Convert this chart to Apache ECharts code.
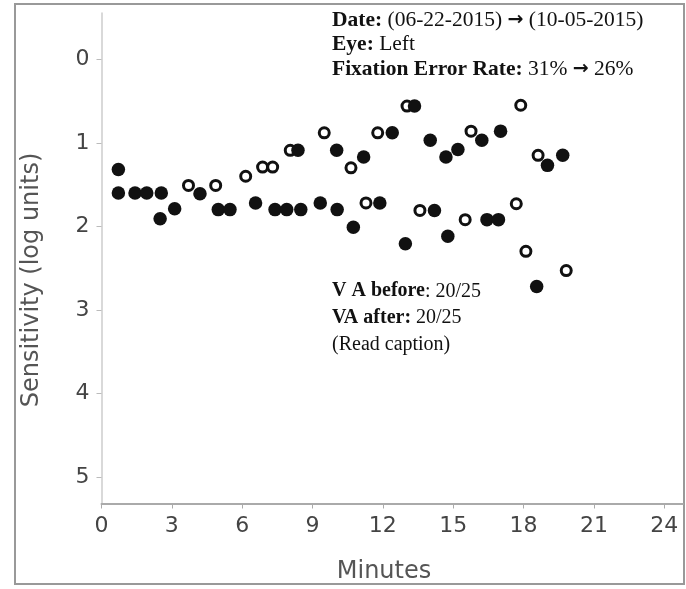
<!DOCTYPE html>
<html>
<head>
<meta charset="utf-8">
<script src="https://cdn.jsdelivr.net/npm/echarts@6/dist/echarts.min.js"></script>
<style>
  html, body { margin: 0; padding: 0; background: #fff; }
  #chart { width: 686px; height: 589px; }
</style>
</head>
<body>
<div id="chart"></div>
<script>
// filled dots (first visit)
var filledMinutes = [0.72, 0.72, 1.43, 1.93, 2.55, 2.5, 3.12, 4.2, 4.98, 5.48, 6.57, 7.4, 7.9, 8.5, 8.38, 9.33,
    10.03, 10.05, 10.74, 11.18, 11.87, 12.4, 12.96, 13.35, 14.02, 14.2, 14.69, 14.77, 15.2, 16.22, 16.44,
    16.93, 17.02, 18.56, 19.02, 19.67];
var filledSensitivity = [1.32, 1.6, 1.6, 1.6, 1.6, 1.91, 1.79, 1.61, 1.8, 1.8, 1.72, 1.8, 1.8, 1.8, 1.09, 1.72,
    1.09, 1.8, 2.01, 1.17, 1.72, 0.88, 2.21, 0.56, 0.97, 1.81, 1.17, 2.12, 1.08, 0.97, 1.92,
    1.92, 0.86, 2.72, 1.27, 1.15];

// open circles (second visit)
var openMinutes = [3.71, 4.87, 6.15, 6.87, 7.3, 8.05, 9.5, 10.64, 11.28, 11.78, 13.03, 13.58, 15.51, 15.76,
    17.69, 17.88, 18.1, 18.62, 19.82];
var openSensitivity = [1.51, 1.51, 1.4, 1.29, 1.29, 1.09, 0.88, 1.3, 1.72, 0.88, 0.56, 1.81, 1.92, 0.86,
    1.73, 0.55, 2.3, 1.15, 2.53];

var xTicks = [0, 3, 6, 9, 12, 15, 18, 21, 24];
var yTicks = [0, 1, 2, 3, 4, 5];

function zip(xs, ys) {
    return xs.map(function (x, i) { return [x, ys[i]]; });
}

var chart = echarts.init(document.getElementById('chart'));

var tickFont = { fontFamily: 'DejaVu Sans', fontSize: 22, color: '#444' };
var serif = 'Liberation Serif';
// heavy arrow like the one in the notes
var arrowStyle = { fontFamily: 'DejaVu Sans', fontSize: 19, fontWeight: 'bold', color: '#111' };

chart.setOption({
    animation: false,
    grid: { left: 101.5, top: 13, width: 581.5, height: 490.5 },
    xAxis: {
        type: 'value',
        min: 0,
        max: 24.8,
        interval: 3,
        splitLine: { show: false },
        axisLine: { show: true, onZero: false, lineStyle: { color: '#aaa', width: 2 } },
        axisTick: { show: true, length: 5, customValues: xTicks, lineStyle: { color: '#aaa' } },
        axisLabel: Object.assign({ margin: 12, customValues: xTicks }, tickFont)
    },
    yAxis: {
        type: 'value',
        inverse: true,
        min: -0.555,
        max: 5.32,
        splitLine: { show: false },
        axisLine: { show: true, onZero: false, lineStyle: { color: '#ccc', width: 1.5 } },
        axisTick: { show: true, length: 5, customValues: yTicks, lineStyle: { color: '#bbb' } },
        axisLabel: Object.assign({ margin: 12, customValues: yTicks }, tickFont)
    },
    series: [
        {
            name: 'after',
            type: 'scatter',
            symbol: 'circle',
            symbolSize: 10,
            z: 2,
            itemStyle: { color: '#fff', borderColor: '#111', borderWidth: 3, opacity: 1 },
            data: zip(openMinutes, openSensitivity)
        },
        {
            name: 'before',
            type: 'scatter',
            symbol: 'circle',
            symbolSize: 13.5,
            z: 3,
            itemStyle: { color: '#111', opacity: 1 },
            data: zip(filledMinutes, filledSensitivity)
        }
    ],
    graphic: [
        {
            type: 'rect',
            z: 0,
            shape: { x: 15, y: 4, width: 669, height: 580 },
            style: { fill: null, stroke: '#999', lineWidth: 2 }
        },
        {
            type: 'text',
            x: 32, y: 280,
            rotation: Math.PI / 2,
            style: {
                text: 'Sensitivity (log units)',
                font: '24px "DejaVu Sans"',
                fill: '#555',
                align: 'center',
                verticalAlign: 'middle'
            }
        },
        {
            type: 'text',
            x: 384, y: 572,
            style: {
                text: 'Minutes',
                font: '24px "DejaVu Sans"',
                fill: '#555',
                align: 'center',
                verticalAlign: 'middle'
            }
        },
        {
            type: 'text',
            x: 332, y: 8,
            style: {
                text: '{b|Date:} (06-22-2015) {a|\u2192} (10-05-2015)\n{b|Eye:} Left\n{b|Fixation Error Rate:} 31% {a|\u2192} 26%',
                fontFamily: serif,
                fontSize: 21.5,
                lineHeight: 24.5,
                fill: '#111',
                rich: {
                    b: { fontFamily: serif, fontSize: 21.5, fontWeight: 'bold', lineHeight: 24.5 },
                    a: Object.assign({ lineHeight: 24.5 }, arrowStyle)
                }
            }
        },
        {
            type: 'text',
            x: 332, y: 278,
            style: {
                text: '{b|V A before}: 20/25\n{b|VA after:} 20/25\n(Read caption)',
                fontFamily: serif,
                fontSize: 20,
                lineHeight: 26.5,
                fill: '#111',
                rich: { b: { fontFamily: serif, fontSize: 20, fontWeight: 'bold', lineHeight: 26.5 } }
            }
        }
    ]
});

window.addEventListener('resize', function () {
    chart.resize();
});
</script>
</body>
</html>
